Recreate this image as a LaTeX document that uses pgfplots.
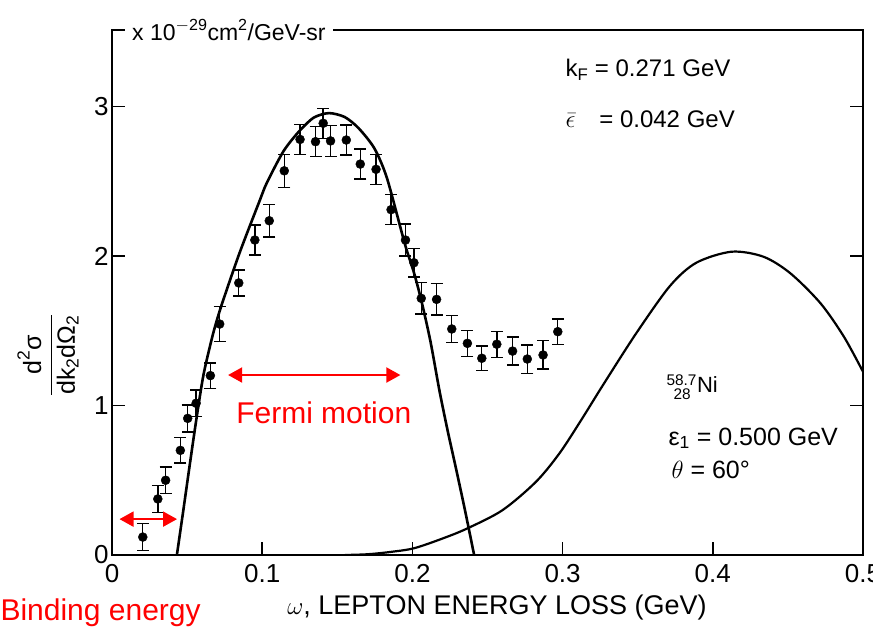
\documentclass[border=0pt]{standalone}
\usepackage{amsmath}
\usepackage{fontspec}
\setmainfont{Liberation Sans}
\usepackage{pgfplots}
\pgfplotsset{compat=1.18}
\usepackage{pgfplotstable}
\usetikzlibrary{arrows.meta}

\definecolor{annot}{RGB}{255,0,0}

% measured cross sections with errors
\pgfplotstableread{
x      y      e
0.0205 0.120  0.090
0.0305 0.375  0.090
0.0357 0.500  0.088
0.0455 0.700  0.085
0.0504 0.914  0.090
0.0560 1.015  0.090
0.0655 1.200  0.085
0.0717 1.545  0.117
0.0844 1.820  0.087
0.0951 2.107  0.100
0.1047 2.236  0.110
0.1147 2.570  0.110
0.1252 2.780  0.100
0.1355 2.765  0.100
0.1406 2.888  0.100
0.1455 2.770  0.105
0.1560 2.776  0.100
0.1653 2.615  0.100
0.1758 2.580  0.100
0.1858 2.310  0.100
0.1954 2.107  0.108
0.2010 1.955  0.095
0.2059 1.717  0.105
0.2161 1.710  0.105
0.2262 1.512  0.090
0.2366 1.416  0.087
0.2462 1.316  0.083
0.2562 1.410  0.087
0.2667 1.364  0.093
0.2765 1.311  0.095
0.2870 1.338  0.095
0.2968 1.494  0.086
}\datapts

% Fermi gas quasi-elastic curve
\pgfplotstableread{
x      y
0.0432 0.000
0.0475 0.300
0.0520 0.620
0.0565 0.930
0.0610 1.210
0.0673 1.480
0.0729 1.670
0.0849 2.020
0.0983 2.370
0.1031 2.490
0.1141 2.700
0.1242 2.830
0.1342 2.925
0.1444 2.956
0.1549 2.930
0.1642 2.855
0.1747 2.720
0.1831 2.520
0.1950 2.080
0.2010 1.890
0.2060 1.700
0.2120 1.430
0.2180 1.100
0.2235 0.830
0.2290 0.580
0.2350 0.300
0.2411 0.000
}\fermi

% second curve
\pgfplotstableread{
x      y
0.1550 0.000
0.1700 0.005
0.1850 0.020
0.2010 0.045
0.2200 0.110
0.2366 0.178
0.2600 0.300
0.2823 0.490
0.2979 0.680
0.3124 0.903
0.3269 1.137
0.3490 1.483
0.3715 1.800
0.3890 1.955
0.4126 2.029
0.4338 1.995
0.4517 1.884
0.4717 1.684
0.4873 1.460
0.5000 1.226
}\resonance

\begin{document}
\begin{tikzpicture}
\useasboundingbox (0pt,0pt) rectangle (873pt,630pt);
\begin{axis}[
    at={(112pt,75pt)}, anchor=south west,
    scale only axis, width=751pt, height=525pt,
    xmin=0, xmax=0.5, ymin=0, ymax=3.512,
    xtick={0,0.1,0.2,0.3,0.4,0.5},
    xticklabels={0,0.1,0.2,0.3,0.4,0.5},
    ytick={0,1,2,3}, yticklabels={0,1,2,3},
    tick align=inside, xtick pos=left, ytick pos=both,
    major tick length=13pt,
    axis line style={line width=2pt},
    every tick/.style={line width=1.6pt, black},
    ticklabel style={font=\fontsize{26}{26}\selectfont},
    xticklabel style={yshift=-6pt},
]
\addplot[black, line width=2.6pt, smooth, tension=0.45] table {\fermi};
\addplot[black, line width=2.2pt, smooth, tension=0.5] table {\resonance};
\addplot[only marks, mark=*, mark size=4.5pt, black,
    error bars/.cd, y dir=both, y explicit,
    error bar style={line width=1.4pt, black},
    error mark options={rotate=90, mark size=6pt, line width=1.4pt, black}]
    table[x=x, y=y, y error=e] {\datapts};

\draw[annot, line width=2pt, {Triangle[length=14pt,width=15pt]}-{Triangle[length=14pt,width=15pt]}]
    (axis cs:0.0773,1.204) -- (axis cs:0.192,1.204);
\draw[annot, line width=2pt, {Triangle[length=14pt,width=15pt]}-{Triangle[length=14pt,width=15pt]}]
    (axis cs:0.005,0.24) -- (axis cs:0.0433,0.24);
\node[annot, anchor=base, font=\fontsize{30}{30}\selectfont] at (axis cs:0.141,0.883) {Fermi motion};
\end{axis}

% unit label breaking the top frame line
\node[anchor=west, fill=white, inner xsep=7pt, inner ysep=4pt, font=\fontsize{23}{23}\selectfont]
    at (125pt,600pt) {x 10\textsuperscript{$-$29}cm\textsuperscript{2}/GeV-sr};

\node[rotate=90, font=\fontsize{25}{25}\selectfont] at (48pt,275pt)
    {$\dfrac{\text{d}^{\text{2}}\text{σ}}{\text{dk}_{\text{2}}\text{dΩ}_{\text{2}}}$};

\node[anchor=base, font=\fontsize{27}{27}\selectfont] at (497pt,16pt)
    {$\omega$, LEPTON ENERGY LOSS (GeV)};
\node[annot, anchor=base west, font=\fontsize{30}{30}\selectfont] at (-3pt,10pt) {Binding energy};

\node[anchor=base west, font=\fontsize{24}{24}\selectfont] at (562pt,553pt)
    {k\textsubscript{F} = 0.271 GeV};
\node[anchor=base west, font=\fontsize{24}{24}\selectfont] at (562pt,502pt)
    {$\bar{\epsilon}$\quad= 0.042 GeV};
\node[anchor=base west, font=\fontsize{22}{22}\selectfont] at (663pt,237pt)
    {${}^{\text{58.7}}_{\phantom{5}\text{28}}$Ni};
\node[anchor=base west, font=\fontsize{25}{25}\selectfont] at (665pt,185pt)
    {ε\textsubscript{1} = 0.500 GeV};
\node[anchor=base west, font=\fontsize{25}{25}\selectfont] at (668pt,152pt)
    {$\theta$ = 60°};
\end{tikzpicture}
\end{document}
